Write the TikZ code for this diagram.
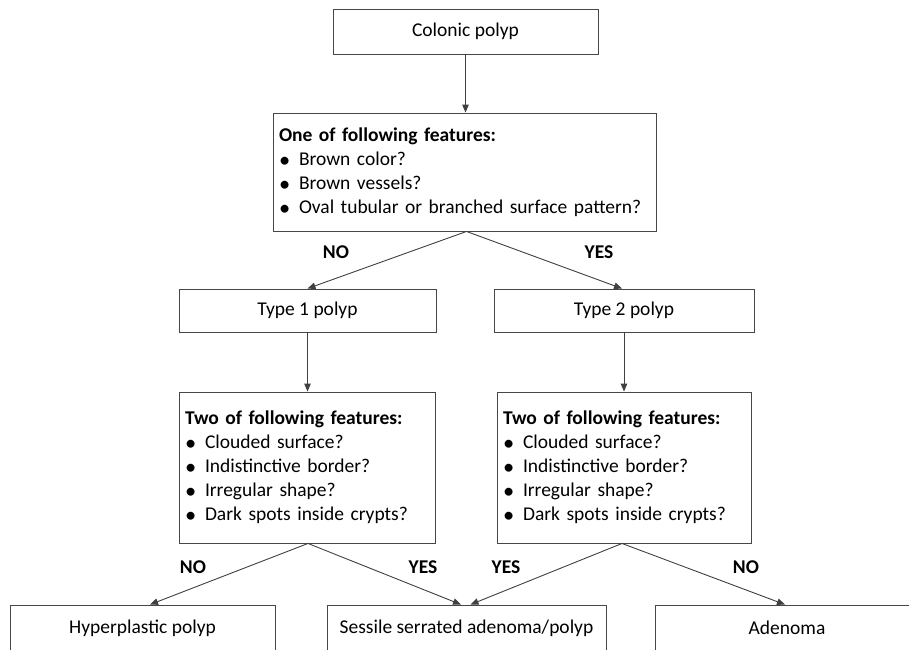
\documentclass[tikz,border=0pt]{standalone}
\usepackage{fontspec}
\setmainfont{Carlito}
\usetikzlibrary{arrows.meta}

% one bullet line inside a feature list
\newcommand{\bulletline}[1]{\makebox[20pt][l]{\raisebox{-1.8pt}{\scalebox{1.15}{\textbullet}}}#1}

\tikzset{
  box/.style={draw=black!72, line width=0.9pt, rectangle, inner xsep=6pt, inner ysep=0pt,
              font=\fontsize{19.5}{24}\selectfont, text=black, align=center},
  listbox/.style={box, align=left},
  arr/.style={draw=black!75, line width=0.9pt, -{Triangle[length=8pt,width=6.5pt]}},
  lbl/.style={font=\fontsize{19.5}{24}\selectfont\bfseries, text=black},
}

\begin{document}
\begin{tikzpicture}[x=1pt, y=-1pt]
  \useasboundingbox (0,0) rectangle (909,649);
  \clip (0,0) rectangle (909,649);

  % decision tree boxes
  \node[box, minimum width=265pt, minimum height=45pt] (colonic) at (465.5,31.5) {Colonic polyp};

  \node[listbox, text width=371pt, minimum height=118pt] (main) at (464.5,172)
    {\textbf{One of following features:}\\
     \bulletline{Brown color?}\\
     \bulletline{Brown vessels?}\\
     \bulletline{Oval tubular or branched surface pattern?}};

  \node[box, minimum width=257pt, minimum height=43pt] (type1) at (307.5,310.5) {Type 1 polyp};
  \node[box, minimum width=260pt, minimum height=43pt] (type2) at (624,310.5) {Type 2 polyp};

  \node[listbox, text width=244pt, minimum height=151pt] (dec1) at (307,467.5)
    {\textbf{Two of following features:}\\
     \bulletline{Clouded surface?}\\
     \bulletline{Indistinctive border?}\\
     \bulletline{Irregular shape?}\\
     \bulletline{Dark spots inside crypts?}};
  \node[listbox, text width=242pt, minimum height=151pt] (dec2) at (624,467.5)
    {\textbf{Two of following features:}\\
     \bulletline{Clouded surface?}\\
     \bulletline{Indistinctive border?}\\
     \bulletline{Irregular shape?}\\
     \bulletline{Dark spots inside crypts?}};

  \node[box, minimum width=265pt, minimum height=46pt] (hyper) at (142.5,628) {Hyperplastic polyp};
  \node[box, minimum width=279pt, minimum height=46pt] (sessile) at (466.5,628) {Sessile serrated adenoma/polyp};
  \node[box, minimum width=264pt, minimum height=46pt] (adenoma) at (787,628) {Adenoma};

  % connectors
  \draw[arr] (colonic.south) -- (colonic.south |- main.north);
  \draw[arr] ([xshift=2pt]main.south) -- (type1.north);
  \draw[arr] ([xshift=2pt]main.south) -- ([xshift=-2pt]type2.north);
  \draw[arr] (type1.south) -- (type1.south |- dec1.north);
  \draw[arr] (type2.south) -- (type2.south |- dec2.north);
  \draw[arr] ([xshift=1pt]dec1.south) -- ([xshift=7.5pt]hyper.north);
  \draw[arr] ([xshift=1pt]dec1.south) -- ([xshift=-5.5pt]sessile.north);
  \draw[arr] ([xshift=-2pt]dec2.south) -- ([xshift=4pt]sessile.north);
  \draw[arr] ([xshift=-2pt]dec2.south) -- ([xshift=-2pt]adenoma.north);

  % branch labels
  \node[lbl] (no1)  at (336,252) {NO};
  \node[lbl] (yes1) at (599,252) {YES};
  \node[lbl] (no2)  at (193,567) {NO};
  \node[lbl] (yes2) at (423,567) {YES};
  \node[lbl] (yes3) at (506,567) {YES};
  \node[lbl] (no3)  at (746,567) {NO};
\end{tikzpicture}
\end{document}
